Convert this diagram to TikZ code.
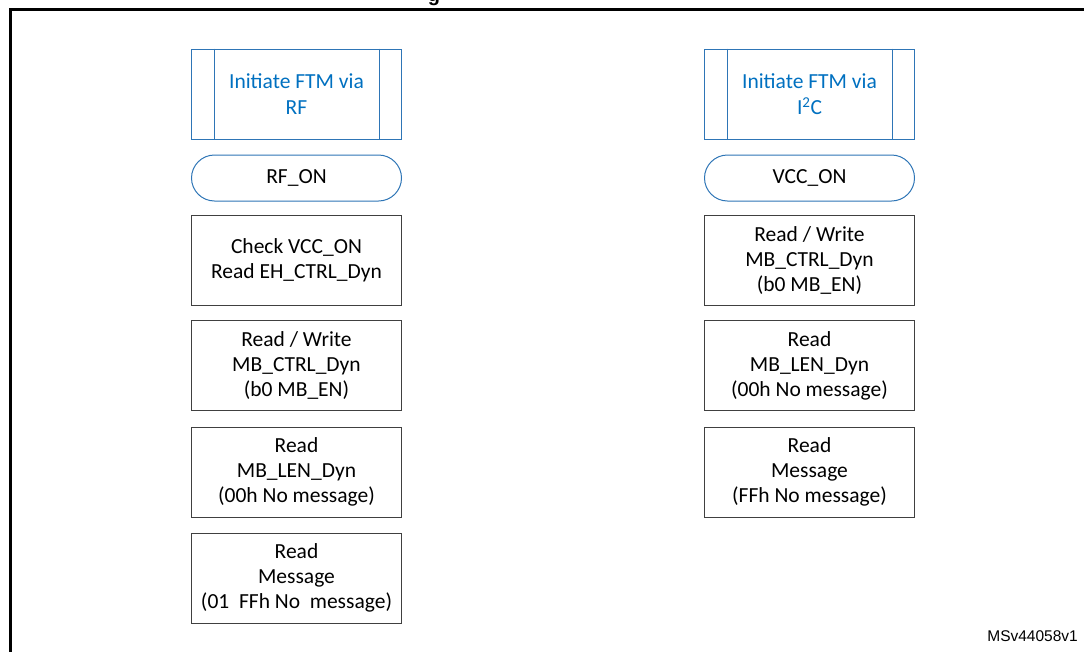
\documentclass[tikz,border=0pt]{standalone}
\usepackage{fontspec}
\setmainfont{Carlito}
\newfontfamily\arialfont{Liberation Sans}
\usetikzlibrary{calc}
\definecolor{lineblue}{RGB}{46,117,182}
\definecolor{textblue}{RGB}{0,112,192}
\definecolor{boxgray}{RGB}{64,64,64}
\tikzset{
  procbox/.style={draw=boxgray, line width=1pt, minimum width=210pt, minimum height=90pt, align=center, inner sep=0pt, font=\fontsize{21.5}{25}\selectfont},
  subbox/.style={draw=lineblue, line width=1pt, minimum width=210pt, minimum height=90pt, align=center, inner sep=0pt, text=textblue, font=\fontsize{21.5}{26.5}\selectfont},
  termbox/.style={draw=lineblue, line width=1pt, minimum width=210pt, minimum height=46pt, rounded corners=23pt, align=center, inner sep=0pt, font=\fontsize{21.5}{25}\selectfont},
  innerline/.style={draw=lineblue, line width=1pt},
}
\begin{document}
\begin{tikzpicture}[x=1pt,y=-1pt]
\useasboundingbox (0,0) rectangle (1084,651);
\begin{scope}
\clip (0,0) rectangle (1084,651);
\node[anchor=base, font=\arialfont\bfseries\fontsize{20}{24}\selectfont, inner sep=0pt] (ttl) at (434,1.5) {g};
\draw[line width=3pt] (10,660) -- (10,9.5) -- (1090,9.5);
\end{scope}
% left column
\node[subbox] (subL) at (296.5,94) {Initiate FTM via\\RF};
\draw[innerline] ($(subL.north west)+(23,0)$) -- ($(subL.south west)+(23,0)$);
\draw[innerline] ($(subL.north east)+(-23,0)$) -- ($(subL.south east)+(-23,0)$);
\node[termbox] (rfon) at (296.5,178) {RF\_ON};
\node[procbox] (chk) at (296.5,260) {Check VCC\_ON\\Read EH\_CTRL\_Dyn};
\node[procbox] (rwL) at (296.5,365.5) {Read / Write\\MB\_CTRL\_Dyn\\(b0 MB\_EN)};
\node[procbox] (lenL) at (296.5,472) {Read\\MB\_LEN\_Dyn\\(00h No message)};
\node[procbox] (msgL) at (296.5,578) {Read\\Message\\(01\ \ FFh No\ \ message)};
% right column
\node[subbox] (subR) at (809.5,94) {Initiate FTM via\\I\textsuperscript{2}C};
\draw[innerline] ($(subR.north west)+(23,0)$) -- ($(subR.south west)+(23,0)$);
\draw[innerline] ($(subR.north east)+(-23,0)$) -- ($(subR.south east)+(-23,0)$);
\node[termbox] (vcc) at (809.5,178) {VCC\_ON};
\node[procbox] (rwR) at (809.5,260.5) {Read / Write\\MB\_CTRL\_Dyn\\(b0 MB\_EN)};
\node[procbox] (lenR) at (809.5,365.5) {Read\\MB\_LEN\_Dyn\\(00h No message)};
\node[procbox] (msgR) at (809.5,472) {Read\\Message\\(FFh No message)};
% id
\node[anchor=east, font=\arialfont\fontsize{15.5}{18}\selectfont, inner sep=0pt] (id) at (1078,636) {MSv44058v1};
\end{tikzpicture}
\end{document}
